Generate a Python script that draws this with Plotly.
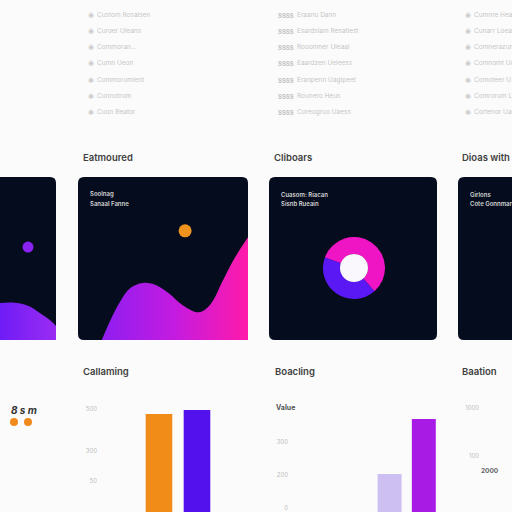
import plotly.graph_objects as go

W = H = 512


def px(x):
    return x / W


def py(y):
    return 1 - y / H


# ---------------- data ----------------
list_col1 = ["Custom Rosalsen", "Curoer Uleans", "Commoran...", "Cumn Ueon",
             "Commorumlent", "Cunnotrom", "Cuon Beator"]
list_col2_codes = ["SSSS", "SSSS", "SSSS", "SSSS", "SSSS", "SSSS", "SSSS"]
list_col2 = ["Eraanu Dann", "Esardsiam Resatiest", "Rooonmer Uleaal", "Eaardzen Ueleess",
             "Eranpenn Uagipeet", "Rounero Heus", "Coreogruo Uaess"]
list_col3 = ["Cumnre Heaat", "Cunarr Loeasd", "Comnerazuns", "Comnomt Uqu",
             "Comoteer U a", "Comrorum Lleu", "Cortenor Uau"]

card_titles = ["Eatmoured", "Cliboars", "Dioas with"]
card_lines = [["Soolnag", "Sanaal Fanne"],
              ["Cuasom: Riacan", "Sisnb Rueain"],
              ["Girlons", "Cote Gonnmaro"]]

wave_side_x = [0, 23, 50, 71, 89, 100]
wave_side_y = [22.7, 23, 21, 16.6, 12.3, 8.6]
dot_side_x, dot_side_y = [50], [57]

wave_main_x = [14, 19, 25, 31, 38, 45, 53, 62, 71, 78, 85, 92, 100]
wave_main_y = [0, 12, 24, 32, 35, 34, 29, 21, 17, 22, 36, 50, 63]
dot_main_x, dot_main_y = [63], [67]

donut_labels = ["Share A", "Share B"]
donut_values = [58, 42]

bottom_titles = ["Callaming", "Boacling", "Baation"]
legend_label = "8 s m"

bar1_categories = [0, 1]
bar1_values = [98, 102]
bar1_tickvals = [1, 31, 61, 103]
bar1_ticktext = ["100", "50", "300", "500"]

bar2_categories = [0, 1]
bar2_values = [38, 93]
bar2_tickvals = [4, 37, 70]
bar2_ticktext = ["0", "200", "300"]
bar2_axis_label = "Value"

bar3_tickvals = [3, 56, 104]
bar3_ticktext = ["100", "100", "1000"]
bar3_value_label = "2000"

# ---------------- figure ----------------
fig = go.Figure()

BG = "#fbfbfb"
CARD = "#050c1e"
FONT = "Inter"

shapes = []


def card(x0, y0, x1, y1, r=6):
    X0, X1 = px(x0), px(x1)
    Y0, Y1 = py(y0), py(y1)
    R = r / W
    path = (f"M {X0+R},{Y0} L {X1-R},{Y0} Q {X1},{Y0} {X1},{Y0-R} "
            f"L {X1},{Y1+R} Q {X1},{Y1} {X1-R},{Y1} L {X0+R},{Y1} "
            f"Q {X0},{Y1} {X0},{Y1+R} L {X0},{Y0-R} Q {X0},{Y0} {X0+R},{Y0} Z")
    shapes.append(dict(type="path", path=path, xref="paper", yref="paper",
                       fillcolor=CARD, line=dict(width=0), layer="below"))


card(-20, 177, 56, 340)
card(78, 177, 248, 340)
card(269, 177, 437, 340)
card(458, 177, 540, 340)

# donut hole (white)
shapes.append(dict(type="circle", xref="paper", yref="paper",
                   x0=px(340), x1=px(368), y0=py(282), y1=py(254),
                   fillcolor="#fbf8fd", line=dict(width=0), layer="above"))
# legend dots bottom-left
for cx in (14, 28):
    shapes.append(dict(type="circle", xref="paper", yref="paper",
                       x0=px(cx - 4), x1=px(cx + 4), y0=py(426), y1=py(418),
                       fillcolor="#f08a1a", line=dict(width=0)))

# card 1 (side, left) wave + dot
fig.add_trace(go.Scatter(x=wave_side_x, y=wave_side_y, mode="lines",
                         line=dict(shape="spline", width=0, color="#7a20f5"),
                         fill="tozeroy",
                         fillgradient=dict(type="horizontal",
                                           colorscale=[[0, "#6f1cf6"], [1, "#9a2cf2"]]),
                         xaxis="x", yaxis="y", hoverinfo="skip"))
fig.add_trace(go.Scatter(x=dot_side_x, y=dot_side_y, mode="markers",
                         marker=dict(size=11, color="#8a22f0"),
                         xaxis="x", yaxis="y"))

# card 2 (main) wave + dot
fig.add_trace(go.Scatter(x=wave_main_x, y=wave_main_y, mode="lines",
                         line=dict(shape="spline", width=0, color="#c020e0"),
                         fill="tozeroy",
                         fillgradient=dict(type="horizontal",
                                           colorscale=[[0, "#8e1ef0"], [0.5, "#c41be0"], [1, "#ff1aaa"]]),
                         xaxis="x2", yaxis="y2", hoverinfo="skip"))
fig.add_trace(go.Scatter(x=dot_main_x, y=dot_main_y, mode="markers",
                         marker=dict(size=13, color="#f0931e"),
                         xaxis="x2", yaxis="y2"))

# card 3 donut
fig.add_trace(go.Pie(labels=donut_labels, values=donut_values, hole=0.45,
                     sort=False, direction="clockwise", rotation=-70,
                     marker=dict(colors=["#f015c4", "#5a18f5"], line=dict(width=0)),
                     textinfo="none", showlegend=False,
                     domain=dict(x=[px(323), px(385)], y=[py(299), py(237)])))

# bar chart 1
fig.add_trace(go.Bar(x=bar1_categories, y=bar1_values,
                     marker=dict(color=["#f28c18", "#5311ee"], line=dict(width=0)),
                     xaxis="x3", yaxis="y3"))
# bar chart 2
fig.add_trace(go.Bar(x=bar2_categories, y=bar2_values,
                     marker=dict(color=["#cdbff2", "#a81be4"], line=dict(width=0)),
                     xaxis="x4", yaxis="y4"))
# bar chart 3 (axis only)
fig.add_trace(go.Scatter(x=[], y=[], xaxis="x5", yaxis="y5"))

# ---------------- annotations ----------------
ann = []


def text(x, y, t, size=7, color="#c4c4c4", weight=None, anchor="left", family=FONT, italic=False):
    f = dict(size=size, color=color, family=family)
    if weight:
        f["weight"] = weight
    if italic:
        f["style"] = "italic"
    ann.append(dict(x=px(x), y=py(y), xref="paper", yref="paper", text=t,
                    showarrow=False, xanchor=anchor, yanchor="middle", font=f))


rows_y = [15, 31, 47, 63, 80, 96, 112]
for i, yy in enumerate(rows_y):
    text(86, yy, "◉", size=6.5, color="#cccccc")
    text(95, yy, list_col1[i], size=6.5, color="#c6c6c6")
    text(276, yy, list_col2_codes[i], size=6, color="#c2c2c2", weight=700)
    text(295, yy, list_col2[i], size=6.5, color="#c6c6c6")
    text(463, yy, "◉", size=6.5, color="#cccccc")
    text(472, yy, list_col3[i], size=6.5, color="#c6c6c6")

for xx, t in zip((81, 272, 460), card_titles):
    text(xx, 157, t, size=9.5, color="#404040", weight=600)
for xx, lines in zip((88, 279, 468), card_lines):
    text(xx, 194, lines[0], size=6, color="#d4d4d4", weight=600)
    text(xx, 203, lines[1], size=6, color="#d4d4d4", weight=600)

for xx, t in zip((81, 273, 460), bottom_titles):
    text(xx, 371, t, size=9.5, color="#404040", weight=600)

text(9, 410, legend_label, size=10, color="#333333", weight=700, italic=True)
text(274, 407, bar2_axis_label, size=7, color="#555555", weight=700)
text(479, 471, bar3_value_label, size=6.5, color="#666666", weight=700)

# ---------------- layout ----------------
tickfont = dict(size=6, color="#bcbcbc", family=FONT)
hidden = dict(visible=False, showgrid=False, zeroline=False, fixedrange=True)

fig.update_layout(
    width=W, height=H, margin=dict(l=0, r=0, t=0, b=0),
    paper_bgcolor=BG, plot_bgcolor="rgba(0,0,0,0)",
    showlegend=False, shapes=shapes, annotations=ann,
    bargap=0.3,
    xaxis=dict(domain=[0, px(56)], range=[0, 100], anchor="y", **hidden),
    yaxis=dict(domain=[py(340), py(177)], range=[0, 100], anchor="x", **hidden),
    xaxis2=dict(domain=[px(78), px(248)], range=[0, 100], anchor="y2", **hidden),
    yaxis2=dict(domain=[py(340), py(177)], range=[0, 100], anchor="x2", **hidden),
    xaxis3=dict(domain=[px(98), px(240)], range=[-1.605, 2.132], anchor="y3", **hidden),
    yaxis3=dict(domain=[0, py(395)], range=[0, 117], anchor="x3",
                tickvals=bar1_tickvals, ticktext=bar1_ticktext, tickfont=tickfont,
                showgrid=False, zeroline=False, showline=False, ticks=""),
    xaxis4=dict(domain=[px(289), px(450)], range=[-2.94, 1.765], anchor="y4", **hidden),
    yaxis4=dict(domain=[0, py(395)], range=[0, 117], anchor="x4",
                tickvals=bar2_tickvals, ticktext=bar2_ticktext, tickfont=tickfont,
                showgrid=False, zeroline=False, showline=False, ticks=""),
    xaxis5=dict(domain=[px(480), 1], range=[0, 1], anchor="y5", **hidden),
    yaxis5=dict(domain=[0, py(395)], range=[0, 117], anchor="x5",
                tickvals=bar3_tickvals, ticktext=bar3_ticktext, tickfont=tickfont,
                showgrid=False, zeroline=False, showline=False, ticks=""),
)

fig.write_html("out.html", config={"displayModeBar": False},
               post_script="document.body.style.margin='0';document.body.style.background='#fbfbfb';")
